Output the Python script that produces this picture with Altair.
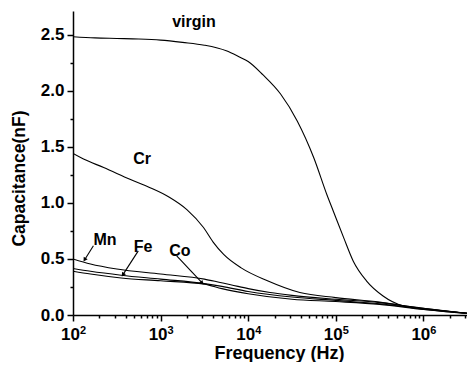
import altair as alt
import pandas as pd

# ---- data (log10 of frequency in Hz, capacitance in nF) ----
virgin_logf = [2.0, 2.25, 2.5, 2.75, 3.0, 3.25, 3.5, 3.75, 3.9, 4.0, 4.17, 4.37, 4.56, 4.75, 4.9, 4.97, 5.09, 5.2, 5.35, 5.54, 5.77, 5.96, 6.25, 6.5]
virgin_cap = [2.48, 2.47, 2.465, 2.46, 2.45, 2.43, 2.405, 2.355, 2.30, 2.26, 2.14, 1.97, 1.73, 1.40, 1.07, 0.93, 0.69, 0.48, 0.305, 0.17, 0.08, 0.055, 0.03, 0.015]

cr_logf = [2.0, 2.12, 2.35, 2.65, 2.88, 3.1, 3.3, 3.49, 3.6, 3.72, 3.92, 4.22, 4.59, 5.0, 5.5, 5.85, 6.2, 6.5]
cr_cap = [1.44, 1.39, 1.315, 1.21, 1.135, 1.05, 0.94, 0.78, 0.65, 0.54, 0.42, 0.305, 0.20, 0.155, 0.115, 0.075, 0.04, 0.015]

mn_logf = [2.0, 2.2, 2.5, 3.0, 3.5, 3.68, 3.8, 4.0, 4.25, 4.5, 5.0, 5.5, 6.0, 6.5]
mn_cap = [0.50, 0.455, 0.41, 0.365, 0.32, 0.29, 0.27, 0.235, 0.20, 0.175, 0.14, 0.11, 0.06, 0.015]

fe_logf = [2.0, 2.2, 2.55, 3.0, 3.5, 3.7, 4.0, 4.5, 5.0, 5.5, 6.0, 6.5]
fe_cap = [0.415, 0.39, 0.355, 0.32, 0.28, 0.255, 0.21, 0.16, 0.13, 0.10, 0.055, 0.015]

co_logf = [2.0, 2.2, 2.55, 3.0, 3.5, 3.7, 4.0, 4.5, 5.0, 5.5, 6.0, 6.5]
co_cap = [0.39, 0.365, 0.33, 0.305, 0.275, 0.235, 0.19, 0.14, 0.12, 0.095, 0.05, 0.015]

# annotations
label_text = ["virgin", "Cr", "Mn", "Fe", "Co"]
label_freq = [2404, 614, 232, 630, 1663]
label_cap = [2.615, 1.395, 0.668, 0.61, 0.57]

arrow_name = ["Mn", "Fe", "Co"]
arrow_f1 = [171, 556, 1528]
arrow_c1 = [0.617, 0.572, 0.528]
arrow_f2 = [137, 375, 2946]
arrow_c2 = [0.497, 0.364, 0.29]
arrow_angle = [212, 213, 137]

major_ticks = [100, 1000, 10000, 100000, 1000000]
major_exp = ["2", "3", "4", "5", "6"]
minor_mult = [1, 2, 3, 4, 5, 6, 7, 8, 9]
y_ticks = [0, 0.25, 0.5, 0.75, 1.0, 1.25, 1.5, 1.75, 2.0, 2.25, 2.5]

# ---- frames ----
rows = []
for name, lf, cp in [("virgin", virgin_logf, virgin_cap), ("Cr", cr_logf, cr_cap),
                     ("Mn", mn_logf, mn_cap), ("Fe", fe_logf, fe_cap), ("Co", co_logf, co_cap)]:
    for a, b in zip(lf, cp):
        rows.append({"series": name, "freq": 10 ** a, "cap": b})
lines_df = pd.DataFrame(rows)

labels_df = pd.DataFrame({"text": label_text, "freq": label_freq, "cap": label_cap})
arrows_df = pd.DataFrame({"name": arrow_name, "freq": arrow_f1, "cap": arrow_c1,
                          "f2": arrow_f2, "c2": arrow_c2, "ang": arrow_angle})
heads_df = pd.DataFrame({"freq": arrow_f2, "cap": arrow_c2, "ang": arrow_angle})
sup_df = pd.DataFrame({"freq": major_ticks, "exp": major_exp})

X_MAX = 3.15e6
x_ticks = [m * 10 ** e for e in range(2, 7) for m in minor_mult]
x_ticks = [v for v in x_ticks if v <= X_MAX]

FONT = "Liberation Sans"
W, H = 394, 304

xscale = alt.Scale(type="log", domain=[100, X_MAX], nice=False)
yscale = alt.Scale(domain=[0, 2.71], nice=False)

major_test = "indexof([100,1000,10000,100000,1000000], datum.value) >= 0"
x_axis = alt.Axis(
    values=x_ticks,
    labelExpr=f"{major_test} ? '10' : ''",
    tickSize={"condition": {"test": major_test, "value": 6}, "value": 3},
    title="Frequency (Hz)",
    titleFont=FONT, titleFontSize=18, titleFontWeight="bold", titleColor="black",
    titleX=206, titleY=38, titleAlign="center", titleBaseline="middle",
    labelFont=FONT, labelFontSize=17, labelFontWeight="bold", labelColor="black",
    labelOffset=-3, labelPadding=5, labelOverlap=False, labelFlush=False, labelBound=False,
    grid=False, domainColor="black", domainWidth=1.5, tickColor="black", tickWidth=1.5,
)
y_major = "abs(datum.value*2 - round(datum.value*2)) < 0.001"
y_axis = alt.Axis(
    values=y_ticks,
    labelExpr=f"{y_major} ? format(datum.value, '.1f') : ''",
    tickSize={"condition": {"test": y_major, "value": 6}, "value": 3},
    title="Capacitance(nF)",
    titleFont=FONT, titleFontSize=17.5, titleFontWeight="bold", titleColor="black",
    titleX=-54, titleY=167, titleAlign="center", titleBaseline="middle",
    labelFont=FONT, labelFontSize=17, labelFontWeight="bold", labelColor="black",
    labelPadding=3, labelOverlap=False, labelFlush=False, labelBound=False,
    grid=False, domainColor="black", domainWidth=1.5, tickColor="black", tickWidth=1.5,
)

X = alt.X("freq:Q", scale=xscale, axis=x_axis)
Y = alt.Y("cap:Q", scale=yscale, axis=y_axis)

lines = alt.Chart(lines_df).mark_line(color="black", strokeWidth=1.1, clip=True,
                                      interpolate="monotone").encode(
    x=X, y=Y, detail="series:N", order="freq:Q",
)

texts = alt.Chart(labels_df).mark_text(font=FONT, fontSize=16, fontWeight="bold",
                                       color="black", align="center", baseline="middle").encode(
    x=X, y=Y, text="text:N",
)

arrows = alt.Chart(arrows_df).mark_rule(color="black", strokeWidth=1.1).encode(
    x=X, x2="f2:Q", y=Y, y2="c2:Q",
)

heads = alt.Chart(heads_df).mark_point(shape="triangle", filled=True, color="black",
                                       size=22, opacity=1).encode(
    x=X, y=Y, angle=alt.Angle("ang:Q", scale=None),
)

sups = alt.Chart(sup_df).mark_text(font=FONT, fontSize=11, fontWeight="bold", color="black",
                                   align="left", baseline="top", dx=7).encode(
    x=X, y=alt.value(H + 10), text="exp:N",
)

chart = alt.layer(lines, arrows, heads, texts, sups).properties(
    width=W, height=H,
    padding={"left": 65, "top": 3, "right": 0, "bottom": 47},
    autosize=alt.AutoSizeParams(type="none"),
).configure_view(stroke=None)

chart.save("out.html", embed_options={"renderer": "svg", "actions": False})
